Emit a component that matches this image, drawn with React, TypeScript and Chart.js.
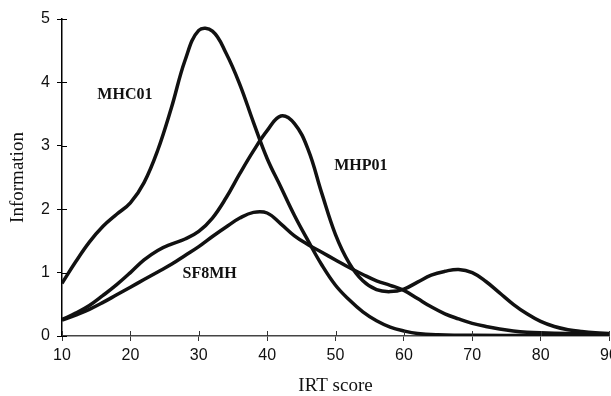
import React, { useEffect, useRef } from "react";
import { Chart, registerables } from "chart.js";

Chart.register(...registerables);

const mhc01X = [10, 12, 14, 16, 18, 20, 22, 24, 26, 28, 30, 32, 34, 36, 38, 40, 42, 44, 46, 48, 50, 52, 54, 56, 58, 60, 62, 65, 70, 80, 90];
const mhc01Y = [0.83, 1.17, 1.48, 1.73, 1.92, 2.1, 2.42, 2.93, 3.6, 4.35, 4.82, 4.81, 4.46, 3.97, 3.37, 2.8, 2.35, 1.9, 1.5, 1.12, 0.8, 0.57, 0.38, 0.24, 0.14, 0.08, 0.04, 0.02, 0.01, 0.01, 0.01];

const mhp01X = [10, 12, 14, 16, 18, 20, 22, 24, 26, 28, 30, 32, 34, 36, 38, 40, 42, 44, 46, 48, 50, 52, 54, 56, 58, 60, 62, 64, 66, 68, 70, 72, 74, 76, 78, 80, 82, 84, 86, 88, 90];
const mhp01Y = [0.26, 0.36, 0.48, 0.64, 0.81, 1.0, 1.2, 1.35, 1.45, 1.53, 1.65, 1.86, 2.18, 2.56, 2.92, 3.24, 3.47, 3.35, 2.94, 2.25, 1.6, 1.15, 0.87, 0.73, 0.7, 0.74, 0.85, 0.96, 1.02, 1.05, 1.0, 0.86, 0.68, 0.5, 0.35, 0.23, 0.15, 0.1, 0.07, 0.05, 0.04];

const sf8mhX = [10, 12, 14, 16, 18, 20, 22, 24, 26, 28, 30, 32, 34, 36, 38, 40, 42, 44, 46, 48, 50, 52, 54, 56, 58, 60, 62, 64, 66, 68, 70, 72, 74, 76, 78, 80, 84, 90];
const sf8mhY = [0.25, 0.33, 0.42, 0.53, 0.65, 0.77, 0.89, 1.01, 1.13, 1.27, 1.41, 1.57, 1.72, 1.86, 1.95, 1.94, 1.77, 1.58, 1.44, 1.32, 1.2, 1.08, 0.97, 0.87, 0.8, 0.72, 0.59, 0.46, 0.35, 0.27, 0.2, 0.15, 0.11, 0.08, 0.06, 0.05, 0.04, 0.03];

const curveLabels = ["MHC01", "MHP01", "SF8MH"];
const curveLabelX = [19.2, 53.7, 31.6];
const curveLabelY = [3.8, 2.68, 0.98];

const xTitle = "IRT score";
const yTitle = "Information";

const W = 630;
const H = 396;

function pts(xs: number[], ys: number[]) {
  return xs.map((x, i) => ({ x, y: ys[i] }));
}

const extrasPlugin = {
  id: "extras",
  afterDraw(chart: any) {
    const { ctx, chartArea, scales } = chart;
    const xs = scales.x;
    const ys = scales.y;
    ctx.save();
    ctx.lineWidth = 1;
    ctx.strokeStyle = "#333";
    xs.ticks.forEach((t: any) => {
      const px = Math.round(xs.getPixelForValue(t.value)) + 0.5;
      ctx.beginPath();
      ctx.moveTo(px, chartArea.bottom);
      ctx.lineTo(px, chartArea.bottom - 5);
      ctx.stroke();
    });
    ctx.strokeStyle = "#000";
    ys.ticks.forEach((t: any) => {
      const py = Math.round(ys.getPixelForValue(t.value)) + 0.5;
      ctx.beginPath();
      ctx.moveTo(chartArea.left, py);
      ctx.lineTo(chartArea.left + 5, py);
      ctx.stroke();
    });
    ctx.fillStyle = "#111";
    ctx.font = "bold 16px 'Liberation Serif', 'Times New Roman', serif";
    ctx.textAlign = "center";
    ctx.textBaseline = "middle";
    curveLabels.forEach((lab, i) => {
      ctx.fillText(lab, xs.getPixelForValue(curveLabelX[i]), ys.getPixelForValue(curveLabelY[i]));
    });
    ctx.restore();
  },
};

export default function App() {
  const ref = useRef<HTMLCanvasElement | null>(null);

  useEffect(() => {
    if (!ref.current) return;
    const lineStyle = {
      borderColor: "#111",
      borderWidth: 3.5,
      pointRadius: 0,
      fill: false,
      tension: 0.4,
    };
    const chart = new Chart(ref.current, {
      type: "line",
      data: {
        datasets: [
          { label: curveLabels[0], data: pts(mhc01X, mhc01Y), ...lineStyle },
          { label: curveLabels[1], data: pts(mhp01X, mhp01Y), ...lineStyle },
          { label: curveLabels[2], data: pts(sf8mhX, sf8mhY), ...lineStyle },
        ],
      },
      options: {
        responsive: false,
        animation: false,
        events: [],
        layout: { padding: { left: 0, right: W - 609, top: 19, bottom: 0 } },
        plugins: {
          legend: { display: false },
          tooltip: { enabled: false },
        },
        scales: {
          x: {
            type: "linear",
            min: 10,
            max: 90,
            afterFit: (s: any) => {
              s.height = 60;
            },
            border: { display: true, color: "#444", width: 1.5 },
            grid: { drawOnChartArea: false, drawTicks: true, tickLength: 5, color: "#333" },
            ticks: {
              stepSize: 10,
              padding: 5,
              color: "#111",
              font: { family: "'Liberation Sans', Arial, sans-serif", size: 16 },
            },
            title: {
              display: true,
              text: xTitle,
              color: "#111",
              padding: 0,
              font: { family: "'Liberation Serif', 'Times New Roman', serif", size: 19, lineHeight: 1 },
            },
          },
          y: {
            type: "linear",
            min: 0,
            max: 5,
            afterFit: (s: any) => {
              s.width = 62;
            },
            border: { display: true, color: "#000", width: 1.5 },
            grid: { drawOnChartArea: false, drawTicks: true, tickLength: 5, color: "#000" },
            ticks: {
              stepSize: 1,
              padding: 7,
              color: "#111",
              font: { family: "'Liberation Sans', Arial, sans-serif", size: 16 },
            },
            title: {
              display: true,
              text: yTitle,
              color: "#111",
              padding: { top: 9, bottom: 0 },
              font: { family: "'Liberation Serif', 'Times New Roman', serif", size: 19, lineHeight: 1 },
            },
          },
        },
      },
      plugins: [extrasPlugin],
    });
    return () => chart.destroy();
  }, []);

  return (
    <div
      style={{
        position: "fixed",
        left: 0,
        top: 0,
        width: 611,
        height: 396,
        overflow: "hidden",
        background: "#fff",
      }}
    >
      <canvas ref={ref} width={W} height={H} style={{ width: W, height: H, display: "block" }} />
    </div>
  );
}
